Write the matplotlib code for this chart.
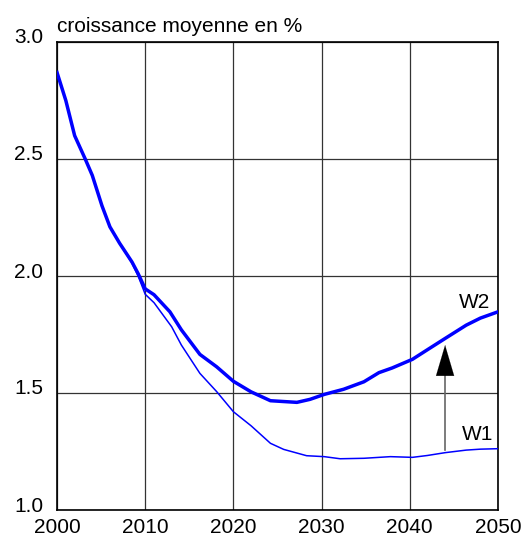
import matplotlib
matplotlib.use("Agg")
import matplotlib.pyplot as plt
import matplotlib.transforms as mtransforms

plt.rcParams['font.family'] = ['Liberation Sans', 'DejaVu Sans']

# Data
years_w2 = [2000, 2001, 2002, 2003.2, 2004, 2005.1, 2006, 2007.1, 2008.5, 2009.2,
            2010, 2011, 2012.8, 2014.1, 2016.2, 2018.1, 2020, 2022, 2024.2,
            2027.2, 2028.7, 2030.3, 2032.5, 2034.8, 2036.5, 2038, 2040.3,
            2042, 2044, 2046.4, 2048, 2050]
w2 = [2.87, 2.75, 2.60, 2.50, 2.43, 2.30, 2.21, 2.14, 2.06, 2.01,
      1.945, 1.92, 1.847, 1.77, 1.665, 1.612, 1.55, 1.505, 1.467,
      1.46, 1.473, 1.494, 1.516, 1.548, 1.587, 1.607, 1.644,
      1.685, 1.733, 1.79, 1.82, 1.847]

years_w1 = [2000, 2001, 2002, 2003.2, 2004, 2005.1, 2006, 2007.1, 2008.5, 2009.2,
            2010, 2011, 2013, 2014.1, 2016.2, 2018.1, 2020, 2022, 2024.2,
            2025.7, 2028.3, 2030.3, 2032.1, 2034.8, 2037.8, 2040.3,
            2042, 2044, 2046.4, 2048, 2050]
w1 = [2.87, 2.75, 2.60, 2.50, 2.43, 2.30, 2.21, 2.14, 2.055, 2.00,
      1.922, 1.886, 1.783, 1.705, 1.584, 1.506, 1.42, 1.36, 1.285,
      1.259, 1.232, 1.228, 1.219, 1.221, 1.228, 1.225,
      1.233, 1.245, 1.256, 1.26, 1.262]

x_ticks = [2000, 2010, 2020, 2030, 2040, 2050]
y_ticks = [1.0, 1.5, 2.0, 2.5, 3.0]
y_labels = ['1.0', '1.5', '2.0', '2.5', '3.0']

fig = plt.figure(figsize=(5.26, 5.39), dpi=100)
ax = fig.add_axes([57 / 526, 29 / 539, 441 / 526, 468 / 539])

ax.plot(years_w1, w1, color='#0000ff', lw=1.1, zorder=3)
ax.plot(years_w2, w2, color='#0000ff', lw=2.5, zorder=4)

ax.set_xlim(2000, 2050)
ax.set_ylim(1.0, 3.0)
ax.set_xticks(x_ticks)
ax.set_yticks(y_ticks)
ax.set_yticklabels(y_labels)
ax.grid(True, color='#333333', lw=0.9)
ax.set_axisbelow(True)
ax.tick_params(length=0, labelsize=15)
ax.tick_params(axis='x', pad=5.5)
ax.tick_params(axis='y', pad=10)
for s in ax.spines.values():
    s.set_linewidth(1.2)
    s.set_color('black')

# y labels sit slightly above their gridlines
offset = mtransforms.ScaledTranslation(0, 6 / 100, fig.dpi_scale_trans)
for lab in ax.get_yticklabels():
    lab.set_transform(lab.get_transform() + offset)

ax.text(2000, 3.0, 'croissance moyenne en %', fontsize=15, ha='left', va='baseline',
        transform=ax.transData + mtransforms.ScaledTranslation(0, 10 / 100, fig.dpi_scale_trans))

ax.text(2047.3, 1.887, 'W2', fontsize=15, ha='center', va='center')
ax.text(2047.7, 1.323, 'W1', fontsize=15, ha='center', va='center')

# arrow from W1 up to W2
ax.plot([2044, 2044], [1.256, 1.585], color='#666666', lw=1.2, zorder=2)
ax.annotate('', xy=(2044, 1.705), xytext=(2044, 1.575),
            arrowprops=dict(arrowstyle='-|>,head_length=2.2,head_width=0.65',
                            mutation_scale=10, color='black', lw=0.1,
                            shrinkA=0, shrinkB=0))

fig.savefig('out.png', dpi=100)
